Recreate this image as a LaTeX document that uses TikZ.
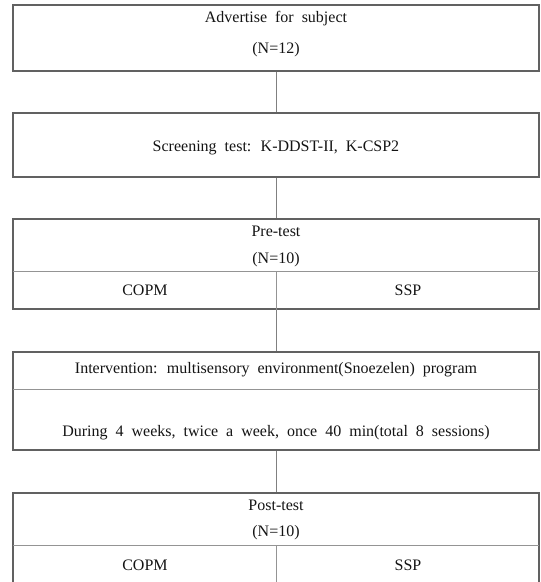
\documentclass[tikz,border=0pt]{standalone}
\usepackage{fontspec}
\setmainfont{Liberation Serif}[WordSpace=2.0]
\begin{document}
\begin{tikzpicture}[x=1pt,y=-1pt,
  box/.style={draw=black!62,line width=1.1pt,minimum width=526pt,inner sep=0pt,fill=none},
  lbl/.style={inner sep=0pt,text=black!92,font=\fontsize{16}{18}\selectfont,text height=11pt,text depth=3pt},
  divline/.style={draw=black!42,line width=1pt},
  conn/.style={draw=black!50,line width=1pt}]
\useasboundingbox (0,0) rectangle (541,582);
\clip (0,0) rectangle (541,582);
% boxes
\node[box,minimum height=66pt] (b1) at (276,38) {};
\node[box,minimum height=64pt] (b2) at (276,145) {};
\node[box,minimum height=90pt] (b3) at (276,264) {};
\node[box,minimum height=98pt] (b4) at (276,401) {};
\node[box,minimum height=107pt] (b5) at (276,546.5) {};
% texts
\node[lbl] (t1a) at (276,18) {Advertise for subject};
\node[lbl] (t1b) at (276,49) {(N=12)};
\node[lbl] (t2) at (276,147) {Screening test: K-DDST-II, K-CSP2};
\node[lbl] (t3a) at (276,232) {Pre-test};
\node[lbl] (t3b) at (276,259) {(N=10)};
\node[lbl] (t3c) at (145,291) {COPM};
\node[lbl] (t3d) at (408,291) {SSP};
\node[lbl] (t4a) at (276,369) {Intervention: multisensory environment(Snoezelen) program};
\node[lbl] (t4b) at (276,432) {During 4 weeks, twice a week, once 40 min(total 8 sessions)};
\node[lbl] (t5a) at (276,506) {Post-test};
\node[lbl] (t5b) at (276,532) {(N=10)};
\node[lbl] (t5c) at (145,566) {COPM};
\node[lbl] (t5d) at (408,566) {SSP};
% dividers
\coordinate (d3l) at (13,271); \coordinate (d3r) at (539,271);
\coordinate (d3m) at (276,271);
\draw[divline] (d3l) -- (d3r);
\draw[divline] (d3m) -- (b3.south);
\coordinate (d4l) at (13,389); \coordinate (d4r) at (539,389);
\draw[divline] (d4l) -- (d4r);
\coordinate (d5l) at (13,545); \coordinate (d5r) at (539,545);
\coordinate (d5m) at (276,545);
\draw[divline] (d5l) -- (d5r);
\draw[divline] (d5m) -- (b5.south);
% connectors
\draw[conn] (b1.south) -- (b2.north);
\draw[conn] (b2.south) -- (b3.north);
\draw[conn] (b3.south) -- (b4.north);
\draw[conn] (b4.south) -- (b5.north);
\end{tikzpicture}
\end{document}
